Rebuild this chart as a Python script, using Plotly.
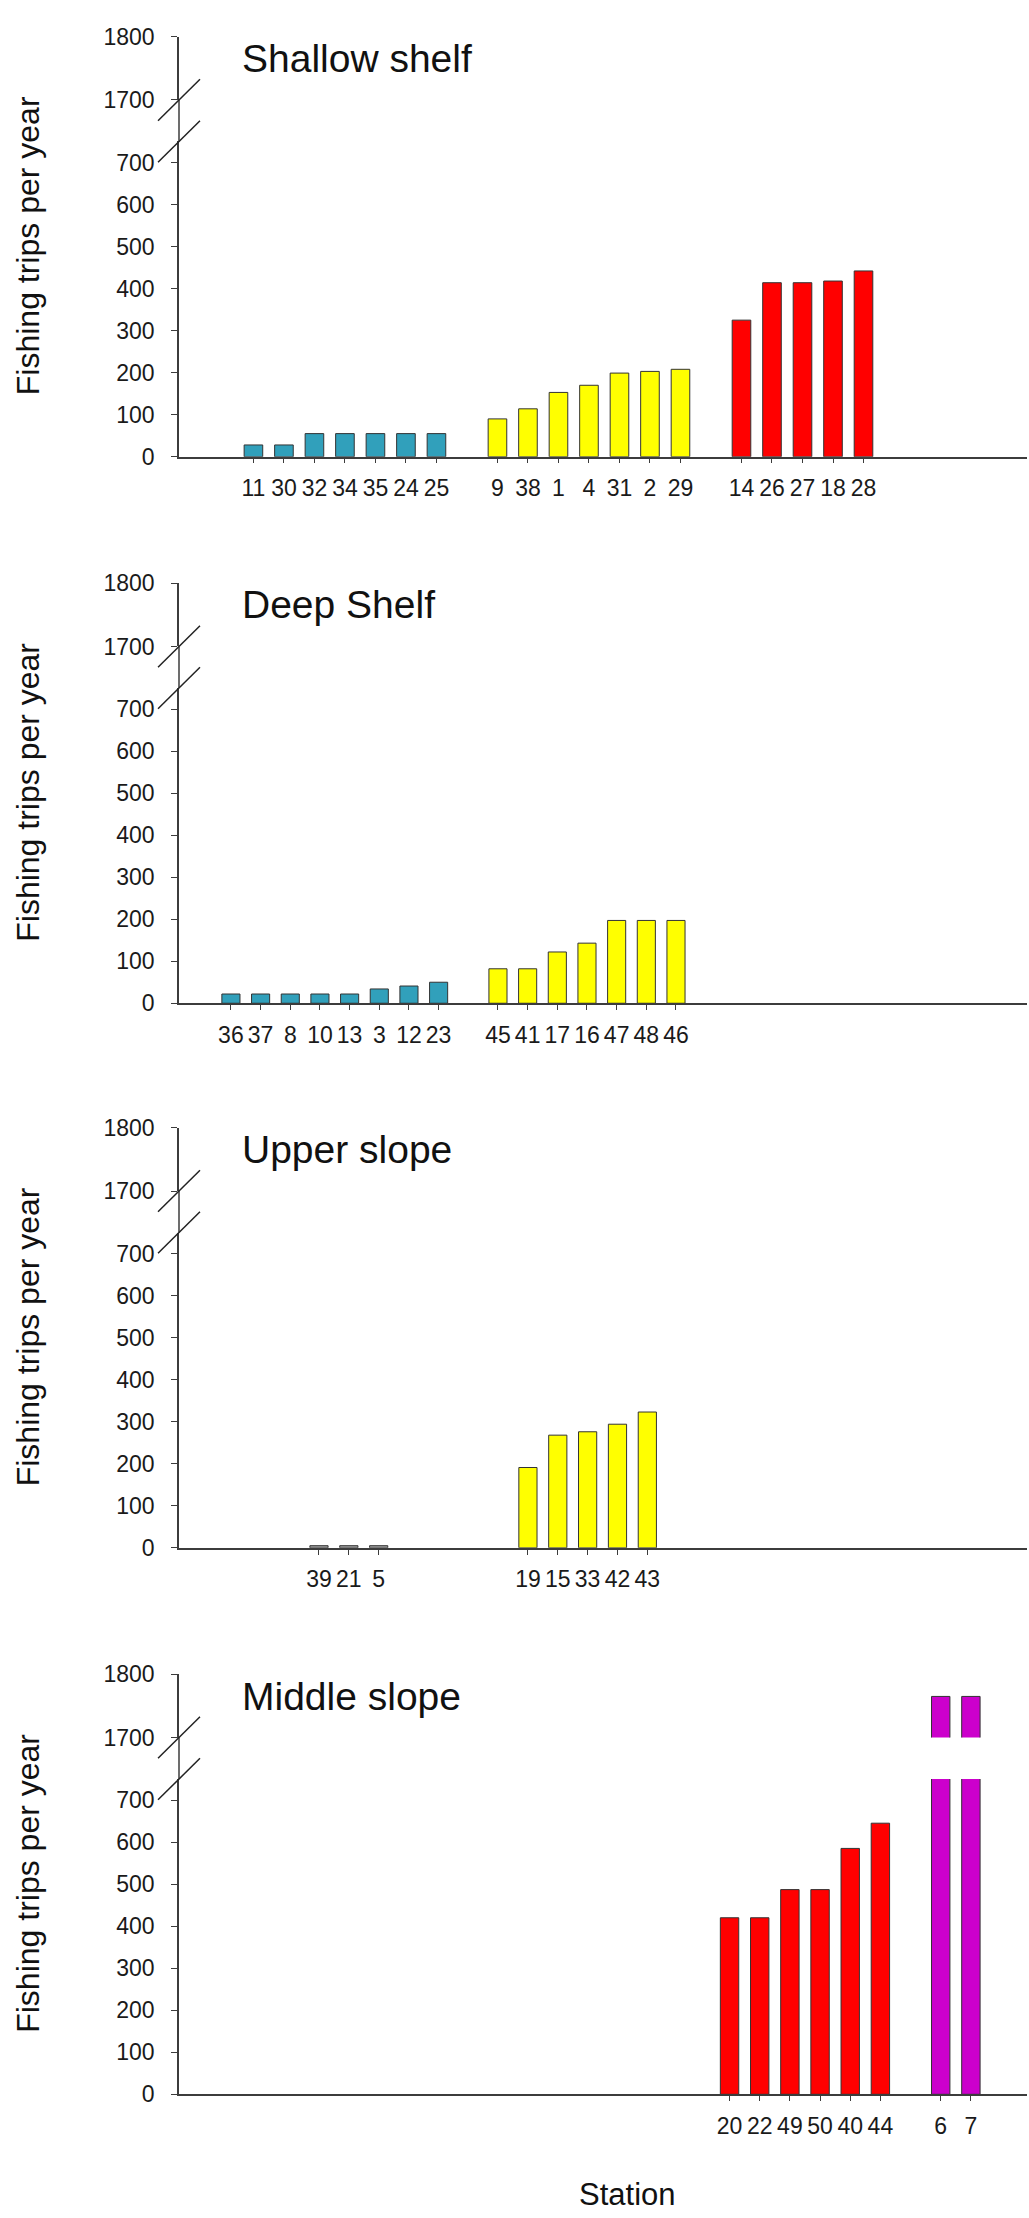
import plotly.graph_objects as go

W, H = 1029, 2218
FONT = "Arial, Liberation Sans, sans-serif"

# ---------------- data ----------------
panel_titles = ["Shallow shelf", "Deep Shelf", "Upper slope", "Middle slope"]

p1_teal_st = ["11", "30", "32", "34", "35", "24", "25"]
p1_teal_val = [28, 28, 55, 55, 55, 55, 55]
p1_yel_st = ["9", "38", "1", "4", "31", "2", "29"]
p1_yel_val = [90, 114, 153, 170, 199, 203, 208]
p1_red_st = ["14", "26", "27", "18", "28"]
p1_red_val = [325, 414, 414, 418, 442]

p2_teal_st = ["36", "37", "8", "10", "13", "3", "12", "23"]
p2_teal_val = [22, 22, 22, 22, 22, 34, 41, 50]
p2_yel_st = ["45", "41", "17", "16", "47", "48", "46"]
p2_yel_val = [82, 82, 122, 143, 197, 197, 197]

p3_grey_st = ["39", "21", "5"]
p3_grey_val = [5, 5, 5]
p3_yel_st = ["19", "15", "33", "42", "43"]
p3_yel_val = [191, 268, 276, 294, 323]

p4_red_st = ["20", "22", "49", "50", "40", "44"]
p4_red_val = [420, 420, 487, 487, 585, 645]
p4_pur_st = ["6", "7"]
p4_pur_val = [1765, 1765]

lower_ticks = [0, 100, 200, 300, 400, 500, 600, 700]
upper_ticks = [1700, 1800]

COL = {"teal": "#31a0bb", "yellow": "#ffff00", "red": "#ff0000",
       "purple": "#cc00cc", "grey": "#9a9a9a"}

panels = [
    {"groups": [(p1_teal_st, p1_teal_val, "teal"), (p1_yel_st, p1_yel_val, "yellow"),
                (p1_red_st, p1_red_val, "red")], "gap": 1, "xr": [-2.44, 25.36]},
    {"groups": [(p2_teal_st, p2_teal_val, "teal"), (p2_yel_st, p2_yel_val, "yellow")],
     "gap": 1, "xr": [-1.75, 26.83]},
    {"groups": [(p3_grey_st, p3_grey_val, "grey"), (p3_yel_st, p3_yel_val, "yellow")],
     "gap": 4, "xr": [-4.69, 23.72]},
    {"groups": [(p4_red_st, p4_red_val, "red"), (p4_pur_st, p4_pur_val, "purple")],
     "gap": 1, "xr": [-18.25, 9.86]},
]

# ---------------- geometry (pixels) ----------------
zero_px = [449, 1002, 1553, 2106]
AX_X = 179
AX_R = 1027
LOW_H = 319     # 0..750
UP_BOT = 361    # 1700
UP_TOP = 425    # 1800


def X(px):
    return px / W


def Y(py):
    return 1 - py / H


fig = go.Figure()
layout = {}
shapes = []
annotations = []
axis_col = "#3c3c3c"
TICKFONT = dict(size=23, color="#1a1a1a", family=FONT)

for k, p in enumerate(panels):
    xa = f"x{k + 1}"
    yl = f"y{2 * k + 1}"
    yu = f"y{2 * k + 2}"
    y0 = zero_px[k]
    pos = 0
    all_pos, all_lab = [], []
    for st, vals, c in p["groups"]:
        xs = list(range(pos, pos + len(st)))
        all_pos += xs
        all_lab += st
        bar_kw = dict(x=xs, y=vals, width=0.61,
                      marker=dict(color=COL[c], line=dict(color="#333333", width=1)),
                      showlegend=False, hoverinfo="skip")
        # lower (0-750) part and upper (1700-1800) part of the broken axis
        fig.add_trace(go.Bar(xaxis=xa, yaxis=yl, **bar_kw))
        fig.add_trace(go.Bar(xaxis=xa, yaxis=yu, **bar_kw))
        pos += len(st) + p["gap"]

    layout[f"xaxis{k + 1}"] = dict(
        domain=[X(AX_X), X(AX_R)], range=p["xr"], anchor=yl,
        showline=True, linecolor=axis_col, linewidth=1.5,
        tickmode="array", tickvals=all_pos, ticktext=all_lab,
        ticks="outside", ticklen=5, tickcolor=axis_col,
        tickfont=TICKFONT, ticklabelstandoff=5,
        showgrid=False, zeroline=False, fixedrange=True)
    layout[f"yaxis{2 * k + 1}"] = dict(
        domain=[Y(y0), Y(y0 - LOW_H)], range=[0, 750], anchor=xa,
        showline=True, linecolor=axis_col, linewidth=1.5,
        tickmode="array", tickvals=lower_ticks,
        ticks="outside", ticklen=6, tickcolor=axis_col,
        tickfont=TICKFONT, ticklabelstandoff=12,
        showgrid=False, zeroline=False, fixedrange=True)
    layout[f"yaxis{2 * k + 2}"] = dict(
        domain=[Y(y0 - UP_BOT), Y(y0 - UP_TOP)], range=[1700, 1800], anchor=xa,
        showline=True, linecolor=axis_col, linewidth=1.5,
        tickmode="array", tickvals=upper_ticks,
        ticks="outside", ticklen=6, tickcolor=axis_col,
        tickfont=TICKFONT, ticklabelstandoff=12,
        showgrid=False, zeroline=False, fixedrange=True)

    # continuous y-axis line through the break
    shapes.append(dict(type="line", xref="paper", yref="paper",
                       x0=X(AX_X), x1=X(AX_X), y0=Y(y0 - UP_BOT), y1=Y(y0 - LOW_H),
                       line=dict(color=axis_col, width=1.5)))
    # break marks
    for c in (y0 - UP_BOT, y0 - LOW_H):
        shapes.append(dict(type="line", xref="paper", yref="paper",
                           x0=X(AX_X - 21), y0=Y(c + 21), x1=X(AX_X + 21), y1=Y(c - 21),
                           line=dict(color="#222222", width=1.5)))

    annotations.append(dict(text=panel_titles[k], xref="paper", yref="paper",
                            x=X(240), y=Y(y0 - 403), xanchor="left", yanchor="middle",
                            showarrow=False, font=dict(size=39, color="#111111", family=FONT)))
    annotations.append(dict(text="Fishing trips per year", xref="paper", yref="paper",
                            x=X(28), y=Y(y0 - 213), xanchor="center", yanchor="middle",
                            textangle=-90, showarrow=False,
                            font=dict(size=32, color="#111111", family=FONT)))

annotations.append(dict(text="Station", xref="paper", yref="paper",
                        x=X(627), y=Y(2207), xanchor="center", yanchor="middle",
                        showarrow=False, font=dict(size=31, color="#111111", family=FONT)))

fig.update_layout(
    width=W, height=H, autosize=False,
    margin=dict(l=0, r=0, t=0, b=0),
    paper_bgcolor="white", plot_bgcolor="white",
    barmode="overlay", showlegend=False,
    shapes=shapes, annotations=annotations,
    font=dict(family=FONT),
    **layout)

fig.write_html("out.html")
